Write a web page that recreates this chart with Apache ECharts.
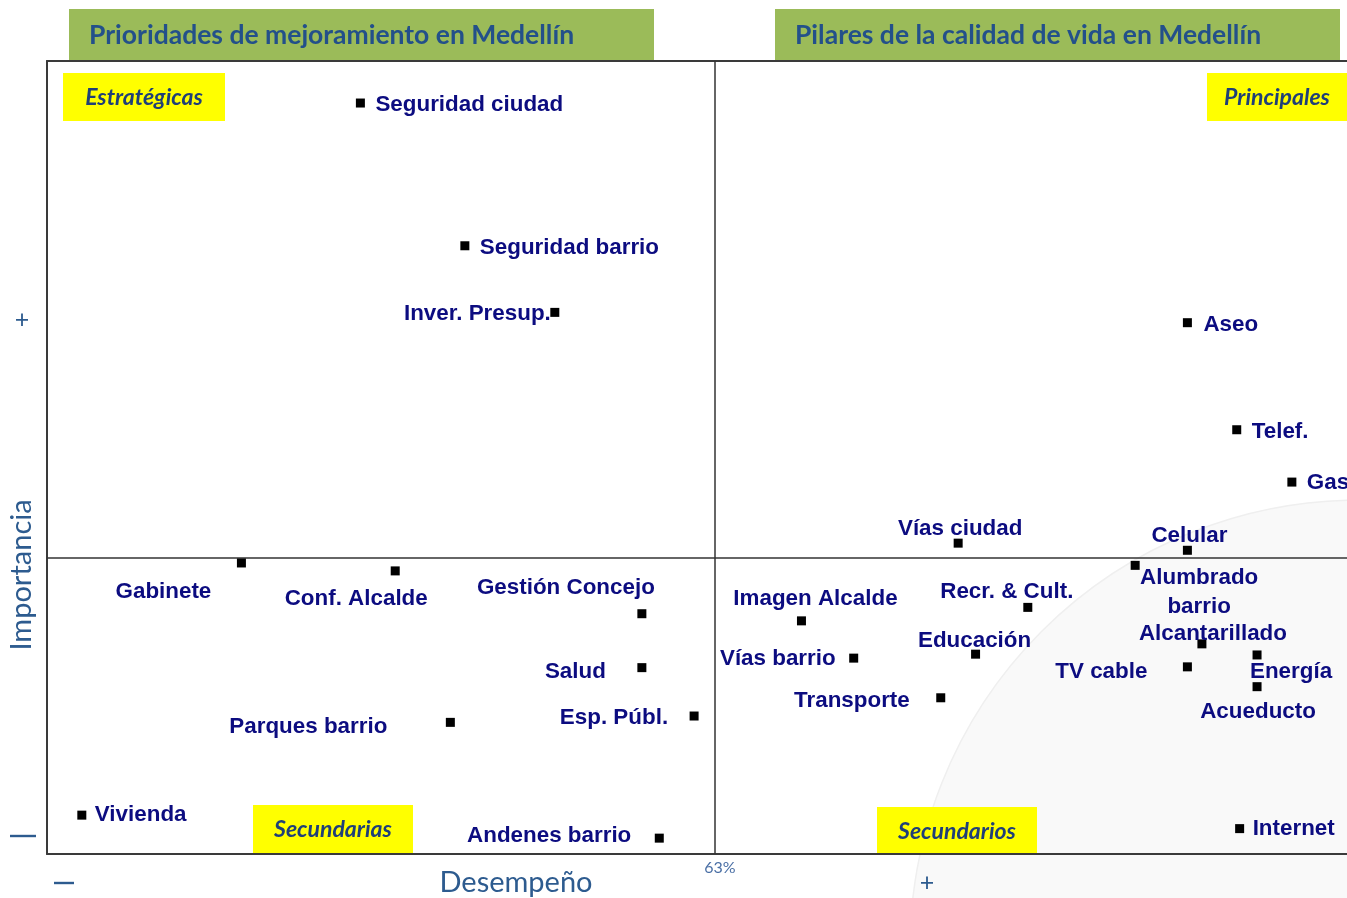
<!DOCTYPE html>
<html><head><meta charset="utf-8">
<script src="https://cdn.jsdelivr.net/npm/echarts@6/dist/echarts.min.js"></script>
<style>html,body{margin:0;padding:0;background:#fff}#c{width:1347px;height:898px}</style>
</head><body><div id="c"></div>
<script>
// ---- data ----
const names = ['Seguridad ciudad','Seguridad barrio','Inver. Presup.','Gabinete','Conf. Alcalde','Gestión Concejo','Salud','Esp. Públ.','Parques barrio','Vivienda','Andenes barrio',
  'Aseo','Telef.','Gas','Vías ciudad','Celular','Alumbrado barrio','Imagen Alcalde','Recr. & Cult.','Educación','Vías barrio','Alcantarillado','TV cable','Energía','Acueducto','Transporte','Internet'];
const desempeno = [50.8,54.4,57.5,46.7,52.0,60.5,60.5,62.3,53.9,41.2,61.1,
  79.3,81.0,82.9,71.4,79.3,77.5,66.0,73.8,72.0,67.8,79.8,79.3,81.7,81.7,70.8,81.1];
const importancia = [94.7,76.7,68.3,36.7,35.7,30.3,23.5,17.4,16.6,4.9,2.0,
  67.0,53.5,46.9,39.2,38.3,36.4,29.4,31.1,25.2,24.7,26.5,23.6,25.1,21.1,19.7,3.2];
const xCut = 63;      // 63% desempeño
const yCut = 37.3;
const xRange = [40, 84.8];
const yRange = [0, 100];
const titles = ['Prioridades de mejoramiento en Medellín','Pilares de la calidad de vida en Medellín'];
const quadrantNames = ['Estratégicas','Principales','Secundarias','Secundarios'];

// ---- label placement (style only): [dx, dy, align, wrap]
const labelPlace = {
  'Seguridad ciudad':[15,2,'left'], 'Seguridad barrio':[15,2,'left'], 'Inver. Presup.':[-4,1,'right'],
  'Gabinete':[-78,29,'center'], 'Conf. Alcalde':[-39,28,'center'], 'Gestión Concejo':[-76,-26,'center'],
  'Salud':[-36,4,'right'], 'Esp. Públ.':[-26,2,'right'], 'Parques barrio':[-63,4,'right'],
  'Vivienda':[13,0,'left'], 'Andenes barrio':[-28,-2,'right'],
  'Aseo':[16,2,'left'], 'Telef.':[15,2,'left'], 'Gas':[15,1,'left'],
  'Vías ciudad':[2,-14,'center'], 'Celular':[2,-14,'center'], 'Alumbrado barrio':[64,27,'center',true],
  'Imagen Alcalde':[14,-22,'center'], 'Recr. & Cult.':[-21,-16,'center'], 'Educación':[-1,-13,'center'],
  'Vías barrio':[-18,1,'right'], 'Alcantarillado':[11,-10,'center'], 'TV cable':[-40,5,'right'],
  'Energía':[34,17,'center'], 'Acueducto':[1,25,'center'], 'Transporte':[-31,3,'right'], 'Internet':[13,0,'left']
};

const seriesData = names.map((n, i) => ({
  name: n,
  value: [desempeno[i], importancia[i]],
  label: { formatter: labelPlace[n][3] ? n.replace(' ', '\n') : n }
}));

const chart = echarts.init(document.getElementById('c'), null, {renderer: 'canvas'});
const axisTxt = '#2d5b8f';
const hiddenAxis = { show: true, axisTick:{show:false}, axisLabel:{show:false}, splitLine:{show:false} };
const borderLine = { show: true, onZero: false, lineStyle: { color: '#3a3a3a', width: 2 } };

const yellowBox = (x, y, w, h, text) => ({
  type: 'group', z: 50,
  children: [
    { type: 'rect', shape: {x, y, width: w, height: h}, style: {fill: '#ffff00'} },
    { type: 'text', x: x + w/2, y: y + h/2 + 1, style: { text, font: 'italic bold 23px Lato', fill: '#1f3f78', align: 'center', verticalAlign: 'middle' } }
  ]
});
const titleBox = (x, y, w, h, text) => ({
  type: 'group', z: 50,
  children: [
    { type: 'rect', shape: {x, y, width: w, height: h}, style: {fill: '#9bbb59'} },
    { type: 'text', x: x + 20, y: y + h/2 + 1, style: { text, font: 'bold 26.5px Lato', fill: '#23508a', align: 'left', verticalAlign: 'middle' } }
  ]
});
const plainText = (x, y, text, font, fill, rot) => ({
  type: 'text', x, y, rotation: rot || 0, z: 50,
  style: { text, font, fill, align: 'center', verticalAlign: 'middle' }
});
const dash = (x, y, w) => ({ type: 'rect', z: 50, shape: {x, y: y - 1.2, width: w, height: 2.4}, style: {fill: axisTxt} });

chart.setOption({
  animation: false,
  backgroundColor: '#ffffff',
  grid: { left: 47, top: 61, right: 0, bottom: 44, containLabel: false },
  xAxis: [
    Object.assign({ type: 'value', min: xRange[0], max: xRange[1], position: 'bottom' }, hiddenAxis, {axisLine: borderLine}),
    Object.assign({ type: 'value', min: xRange[0], max: xRange[1], position: 'top' }, hiddenAxis, {axisLine: borderLine})
  ],
  yAxis: Object.assign({ type: 'value', min: yRange[0], max: yRange[1], position: 'left' }, hiddenAxis, {axisLine: borderLine}),
  graphic: [
    { type: 'circle', shape: {cx: 1359, cy: 949, r: 449}, style: { fill: '#f9f9f9', stroke: '#efefef', lineWidth: 1.5 }, z: -10, silent: true },
    titleBox(69, 9, 585, 51, titles[0]),
    titleBox(775, 9, 565, 51, titles[1]),
    yellowBox(63, 73, 162, 48, quadrantNames[0]),
    yellowBox(1207, 73, 140, 48, quadrantNames[1]),
    yellowBox(253, 805, 160, 48, quadrantNames[2]),
    yellowBox(877, 807, 160, 48, quadrantNames[3]),
    plainText(22, 575, 'Importancia', '29px Lato', axisTxt, Math.PI/2),
    plainText(516, 883, 'Desempeño', '29px Lato', axisTxt),
    plainText(22, 320, '+', '25px Lato', axisTxt),
    plainText(927, 883, '+', '25px Lato', axisTxt),
    dash(10, 836, 26),
    dash(54, 883, 20),
    plainText(720, 868, '63%', '16px Lato', '#4a6fa5')
  ],
  series: [{
    type: 'scatter',
    symbol: 'rect',
    symbolSize: 9,
    itemStyle: { color: '#000000', opacity: 1 },
    label: {
      show: true, position: 'inside',
      color: '#0c0c80', fontFamily: 'Liberation Sans', fontWeight: 'bold', fontSize: 22.4, lineHeight: 29
    },
    labelLayout: function (p) {
      const pl = labelPlace[names[p.dataIndex]];
      return {
        x: p.rect.x + p.rect.width / 2 + pl[0],
        y: p.rect.y + p.rect.height / 2 + pl[1],
        align: pl[2], verticalAlign: 'middle', hideOverlap: false
      };
    },
    emphasis: { disabled: true },
    data: seriesData,
    markLine: {
      silent: true, symbol: 'none',
      label: { show: false },
      lineStyle: { color: '#333333', width: 1.5, type: 'solid' },
      data: [{ xAxis: xCut }, { yAxis: yCut }]
    },
    z: 10
  }]
});
</script>
</body></html>
